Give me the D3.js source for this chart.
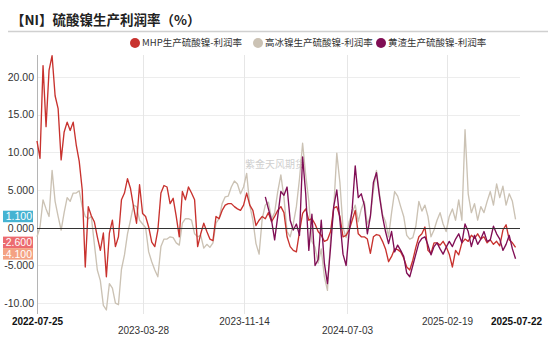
<!DOCTYPE html>
<html>
<head>
<meta charset="utf-8">
<script src="https://cdn.jsdelivr.net/npm/d3@7"></script>
<style>
  html, body { margin: 0; padding: 0; background: #fff; }
  svg { display: block; }
  text { font-family: "Liberation Sans", Arial, "Noto Sans CJK SC", sans-serif; }
  .cjk { font-family: "Noto Sans CJK SC", "Liberation Sans", sans-serif; }
</style>
</head>
<body>
<svg id="chart" width="550" height="337"></svg>
<script>
// Weekly observations, starting Monday 2022-07-25
const startDate = "2022-07-25";
const seriesNames = ["MHP生产硫酸镍-利润率", "高冰镍生产硫酸镍-利润率", "黄渣生产硫酸镍-利润率"];

// MHP route profit margin (%)
const mhpValues = [
  11.5, 9.2, 21.5, 13.4, 20.9, 22.8, 17.5, 15.8, 9.0, 12.7,
  14.0, 12.9, 14.0, 11.0, 8.8, 5.0, -5.2, 2.8, 1.6, 0.8,
  -1.2, -3.0, -0.7, -6.5, -0.7, 1.0, -2.5, -1.2, 3.7, 4.6,
  6.5, 5.2, 2.8, 0.6, 5.7, 1.9, 1.5, 0.1, -1.9, -2.5,
  -0.3, 4.6, 5.6, 5.4, 3.2, 3.9, 1.5, -1.2, 4.8, 3.7,
  5.4, 4.6, 3.7, -2.5, -0.8, 0.6, -0.5, -1.5, -1.7, 1.5,
  1.2, 2.3, 3.0, 3.2, 3.2, 2.8, 2.5, 2.3, 3.0, 4.6,
  3.0, 2.3, 0.3, 1.0, 1.5, 1.2, 2.0, 0.8, 1.5, 2.3,
  2.8, 2.0, -1.2, -2.5, -3.0, -3.2, -0.5, 1.9, 2.5, 1.0,
  1.2, 0.5, -0.5, -1.0, -1.8, -1.6, -0.5, 2.6, 2.8, 1.5,
  -1.2, -1.0, -0.3, 1.0, 2.3, -0.8, -1.2, -1.2, -1.5, -3.4,
  -1.2, -0.9, -1.0, -1.8, -2.8, -4.5, -3.8, -2.8, -2.9, -3.2,
  -4.0, -5.2, -5.6, -4.3, -2.6, -1.2, -0.8, 0.1, -3.0, -3.4,
  -2.0, -2.0, -2.3, -1.8, -2.5, -3.5, -5.2, -3.0, -3.6, -2.0,
  -1.5, -1.8, -1.0, -1.4, -0.8, -1.5, -1.2, -2.0, -1.6, -2.2,
  -1.8, -2.4, -0.3, 0.4, -1.6, -2.0, -2.6
];

// High-grade nickel matte route profit margin (%)
const matteValues = [
  -1.2, 0.1, 3.7, 2.5, 1.5, 7.6, 3.5, 1.5, -0.3, 2.0,
  4.0, 3.5, 4.6, 4.6, 4.9, 2.8, 1.5, 1.2, 1.5, -2.1,
  -5.6, -7.0, -10.3, -10.9, -7.4, -8.0, -10.0, -10.2, -5.5, -3.6,
  -0.8, 1.0, 3.0, 2.8, 1.0, 0.5, 0.0, -3.2, -4.5, -5.6,
  -6.5, -2.5, -1.5, -1.5, -1.2, -1.3, -2.0, -2.3, 0.6, 1.2,
  1.2, 1.0, -0.8, -1.2, -1.0, -2.7, -2.2, -2.6, -2.0, 0.6,
  1.2, 3.2, 4.1, 4.2, 5.4, 6.2, 5.8, 4.5, 5.4, 7.2,
  3.0, 1.0, -2.1, -3.5, 1.2, 3.0, 3.4, 1.2, 2.0, 4.8,
  7.0, 4.0, -0.5, -1.2, 0.5, 2.8, 6.5, 11.2, 7.0, 3.5,
  -1.8, -2.6, -4.7, -2.8, -6.5, -8.3, -1.5, 2.5, 9.9, 6.0,
  0.0, -1.3, 0.8, 2.0, 3.0, 0.8, 2.5, 3.5, 0.5, 1.5,
  5.0, 7.6, 4.5, 1.8, 0.8, -1.2, 2.0, 4.8, 4.2, 2.8,
  1.5, -1.0, -1.5, -1.3, 0.2, 3.5, 2.2, 3.0, 1.5, -1.2,
  -0.3, 1.0, 2.0, 0.5, -0.5, 1.5, 2.5, 1.0, 3.7, 1.0,
  13.0, 4.5, 2.0, 3.2, 1.0, 2.8, 2.0, 3.5, 4.8, 3.0,
  5.8, 4.0, 5.5, 3.0, 4.5, 3.5, 1.1
];

// Nickel slag route profit margin (%), reported from week 75 onward
const slagStartWeek = 75;
const slagValues = [
  4.1, 2.5, 1.0, -1.6, 1.5, 4.8, 4.3, 5.4, 1.0, -0.3,
  0.5, -1.0, 9.4, 4.5, -3.0, 1.8, -5.0, -4.2, 1.0, -4.7,
  -7.4, -2.6, 2.8, 5.0, 1.0, -3.5, -5.0, -0.5, 2.5, 8.2,
  4.0, 4.5, 3.0, -0.8, 1.5, 6.0, 7.3, 4.2, 1.5, -0.5,
  -2.1, -0.5, -3.2, -2.3, -3.0, -3.8, -6.0, -6.5, -5.0, -3.5,
  -2.0, -1.4, -1.2, -2.3, -3.6, -2.5, -2.0, -2.8, -3.5, -2.6,
  -1.8, -2.5, -1.5, -0.8, -2.0, 0.5, -0.5, -2.5, -1.0, -2.2,
  -1.5, -0.5, -1.8, -1.6, 0.2, -0.8, -1.5, -3.0, -2.2, -1.0,
  -2.8, -4.1
];

// Axis ticks
const xTickDates = ["2022-07-25", "2023-03-28", "2023-11-14", "2024-07-03", "2025-02-19", "2025-07-22"];
const yTicks = [20, 15, 10, 5, 0, -5, -10];
const yTickLabels = ["20.00", "15.00", "10.00", "5.000", "0.000", "-5.000", "-10.00"];

// Latest-value badges
const badgeValues = [1.1, -2.6, -4.1];
const badgeLabels = ["1.100", "-2.600", "-4.100"];

const colors = ["#c8322e", "#cbc2b4", "#800e55"];
const badgeColors = ["#45b3d2", "#ec6b6f", "#f4a283"];

const parse = d3.timeParse("%Y-%m-%d");
const t0 = parse(startDate);
const weekDate = i => d3.timeDay.offset(t0, 7 * i);

const mhp = mhpValues.map((v, i) => ({ date: weekDate(i), v }));
const matte = matteValues.map((v, i) => ({ date: weekDate(i), v }));
const slag = slagValues.map((v, i) => ({ date: weekDate(slagStartWeek + i), v }));

const svg = d3.select("#chart");
const plotLeft = 37, plotRight = 520, plotTop = 55, plotBottom = 314;

const x = d3.scaleTime()
  .domain(xTickDates.map(parse))
  .range([37, 143, 244, 347, 447, 516]);
const y = d3.scaleLinear().domain([-11.3, 22.9]).range([313, 55]);

// Title and rule
svg.append("text").attr("class", "cjk")
  .attr("x", 11).attr("y", 25)
  .attr("font-size", 13.5).attr("font-weight", "bold").attr("fill", "#222")
  .text("【NI】硫酸镍生产利润率（%）");
svg.append("line").attr("x1", 8).attr("x2", 548).attr("y1", 31.5).attr("y2", 31.5)
  .attr("stroke", "#d0d0d0").attr("stroke-width", 1.6);

// Legend
const legendX = [135, 258, 381];
seriesNames.forEach((name, i) => {
  const g = svg.append("g").attr("transform", `translate(${legendX[i]},43)`);
  g.append("circle").attr("r", 5).attr("fill", colors[i]);
  g.append("text").attr("class", "cjk").attr("x", 7).attr("y", 3.4)
    .attr("font-size", 9.5).attr("fill", "#333").text(name);
});

// Gridlines
svg.append("g").selectAll("line").data(yTicks.filter(d => d !== 0)).join("line")
  .attr("x1", plotLeft).attr("x2", plotRight)
  .attr("y1", d => Math.round(y(d)) + 0.5).attr("y2", d => Math.round(y(d)) + 0.5)
  .attr("stroke", "#ededed");
svg.append("g").selectAll("line").data(xTickDates.slice(1, -1)).join("line")
  .attr("x1", d => Math.round(x(parse(d))) + 0.5).attr("x2", d => Math.round(x(parse(d))) + 0.5)
  .attr("y1", plotTop).attr("y2", plotBottom)
  .attr("stroke", "#e6e6e6");

// Watermark
svg.append("text").attr("class", "cjk")
  .attr("x", 245).attr("y", 168).attr("font-size", 10).attr("fill", "#cfcfcf")
  .text("紫金天风期货");

// Y axis
const yAxis = d3.axisLeft(y).tickValues(yTicks).tickSize(0).tickPadding(3)
  .tickFormat((d, i) => yTickLabels[i]);
const ya = svg.append("g").attr("transform", `translate(${plotLeft},0)`).call(yAxis);
ya.select(".domain").remove();
ya.selectAll("text").attr("font-size", 10.5).attr("fill", "#333")
  .attr("font-family", "'Liberation Sans', Arial, sans-serif");
svg.append("line").attr("x1", plotLeft + 0.5).attr("x2", plotLeft + 0.5)
  .attr("y1", plotTop).attr("y2", plotBottom)
  .attr("stroke", "#b5b5b5");

// X axis labels
const xAxis = d3.axisBottom(x).tickValues(xTickDates.map(parse)).tickSize(0)
  .tickFormat(d3.timeFormat("%Y-%m-%d"));
const xa = svg.append("g").attr("transform", `translate(0,${plotBottom})`).call(xAxis);
xa.select(".domain").remove();
xa.selectAll(".tick text")
  .attr("font-size", 10)
  .attr("font-family", "'Liberation Sans', Arial, sans-serif")
  .attr("fill", (d, i) => (i === 0 || i === xTickDates.length - 1) ? "#111" : "#333")
  .attr("font-weight", (d, i) => (i === 0 || i === xTickDates.length - 1) ? "bold" : "normal")
  .attr("y", (d, i) => (i === 1 || i === 3) ? 13 : 4)
  .attr("dy", "0.71em");

// Series lines
const line = d3.line().x(d => x(d.date)).y(d => y(d.v));
const order = [[matte, 1], [mhp, 0], [slag, 2]];
order.forEach(([data, ci]) => {
  svg.append("path").datum(data)
    .attr("fill", "none").attr("stroke", colors[ci])
    .attr("stroke-width", 1.35).attr("stroke-linejoin", "round")
    .attr("d", line);
});

// Zero line
svg.append("line").attr("x1", plotLeft).attr("x2", plotRight)
  .attr("y1", Math.round(y(0)) + 0.5).attr("y2", Math.round(y(0)) + 0.5)
  .attr("stroke", "#333").attr("stroke-width", 1);

// Latest-value badges, stacked so they do not overlap
const bh = 11.5;
const badgeY = [y(badgeValues[0]) - 3, y(badgeValues[1]) - 5, 0];
badgeY[2] = badgeY[1] + bh;
badgeValues.forEach((v, i) => {
  const g = svg.append("g").attr("transform", `translate(3,${badgeY[i]})`);
  g.append("rect").attr("x", 0).attr("y", -bh / 2).attr("width", 30).attr("height", bh)
    .attr("fill", badgeColors[i]);
  g.append("text").attr("x", 29).attr("y", 3.8).attr("text-anchor", "end")
    .attr("font-size", 10.5).attr("fill", "#fff").text(badgeLabels[i]);
});
</script>
</body>
</html>
